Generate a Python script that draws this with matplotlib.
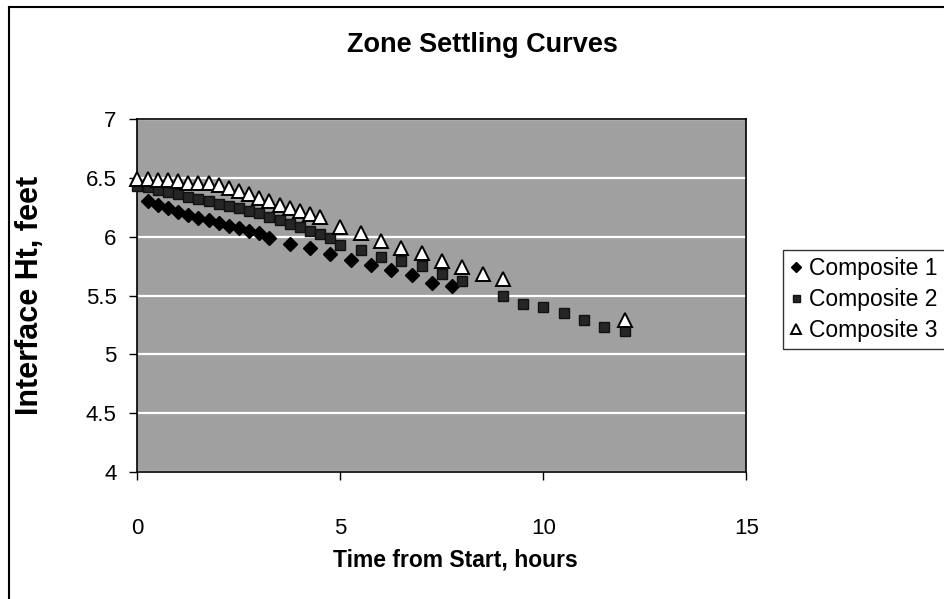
import matplotlib
matplotlib.use("Agg")
import matplotlib.pyplot as plt
from matplotlib.lines import Line2D

plt.rcParams['font.family'] = ['Liberation Sans', 'DejaVu Sans']

# Composite 1 (diamonds)
t1 = [0.25, 0.5, 0.75, 1.0, 1.25, 1.5, 1.75, 2.0, 2.25, 2.5, 2.75, 3.0,
      3.25, 3.75, 4.25, 4.75, 5.25, 5.75, 6.25, 6.75, 7.25, 7.75]
h1 = [6.30, 6.27, 6.24, 6.21, 6.18, 6.16, 6.14, 6.12, 6.09, 6.07, 6.05, 6.03,
      5.99, 5.94, 5.90, 5.85, 5.80, 5.76, 5.72, 5.67, 5.61, 5.58]

# Composite 2 (squares)
t2 = [0.0, 0.25, 0.5, 0.75, 1.0, 1.25, 1.5, 1.75, 2.0, 2.25, 2.5, 2.75, 3.0,
      3.25, 3.5, 3.75, 4.0, 4.25, 4.5, 4.75, 5.0, 5.5, 6.0, 6.5, 7.0, 7.5,
      8.0, 9.0, 9.5, 10.0, 10.5, 11.0, 11.5, 12.0]
h2 = [6.43, 6.42, 6.40, 6.38, 6.36, 6.34, 6.32, 6.30, 6.28, 6.26, 6.24, 6.22, 6.20,
      6.17, 6.14, 6.11, 6.08, 6.05, 6.02, 5.99, 5.93, 5.89, 5.83, 5.79, 5.75, 5.68,
      5.62, 5.50, 5.43, 5.40, 5.35, 5.29, 5.23, 5.20]

# Composite 3 (triangles)
t3 = [0.0, 0.25, 0.5, 0.75, 1.0, 1.25, 1.5, 1.75, 2.0, 2.25, 2.5, 2.75, 3.0,
      3.25, 3.5, 3.75, 4.0, 4.25, 4.5, 5.0, 5.5, 6.0, 6.5, 7.0, 7.5, 8.0,
      8.5, 9.0, 12.0]
h3 = [6.49, 6.49, 6.48, 6.48, 6.47, 6.46, 6.46, 6.46, 6.44, 6.41, 6.39, 6.36, 6.33,
      6.30, 6.27, 6.24, 6.22, 6.19, 6.17, 6.08, 6.03, 5.96, 5.90, 5.86, 5.79, 5.74,
      5.68, 5.64, 5.29]

x_ticks = [0, 5, 10, 15]
y_ticks = [4, 4.5, 5, 5.5, 6, 6.5, 7]

W, H = 945, 599
fig = plt.figure(figsize=(W / 100, H / 100), dpi=100)
fig.patch.set_facecolor('white')

left, right, top, bottom = 137.5, 746.5, 119, 472
ax = fig.add_axes([left / W, 1 - bottom / H, (right - left) / W, (bottom - top) / H])
ax.set_facecolor('#a0a0a0')

ax.set_xlim(0, 15)
ax.set_ylim(4, 7)
ax.set_xticks(x_ticks)
ax.set_yticks(y_ticks)
ax.set_yticklabels([f"{v:g}" for v in y_ticks])
ax.grid(axis='y', color='white', linewidth=1.6)
ax.set_axisbelow(True)
for s in ax.spines.values():
    s.set_color('black')
    s.set_linewidth(1.2)
ax.tick_params(direction='out', length=6, width=1, labelsize=16, colors='black')
ax.tick_params(axis='x', pad=27)
ax.tick_params(axis='y', pad=9)

ax.plot(t1, h1, linestyle='none', marker='D', ms=7, mfc='black', mec='black',
        label='Composite 1', clip_on=False, zorder=3)
ax.plot(t2, h2, linestyle='none', marker='s', ms=7, mfc='#262626', mec='#111111',
        label='Composite 2', clip_on=False, zorder=4)
ax.plot(t3, h3, linestyle='none', marker='^', ms=10, mfc='white', mec='black', mew=1.4,
        label='Composite 3', clip_on=False, zorder=5)

ax.set_xlabel('Time from Start, hours', fontsize=16.5, fontweight='bold')
ax.xaxis.set_label_coords((455 - left) / (right - left), -(560 - bottom) / (bottom - top))
ax.xaxis.label.set_va('center')
ax.set_ylabel('Interface Ht, feet', fontsize=22, fontweight='bold')
ax.yaxis.set_label_coords(-(left - 30) / (right - left), 0.5)
ax.yaxis.label.set_va('center')

fig.text(482 / W, 1 - 45 / H, 'Zone Settling Curves', ha='center', va='center',
         fontsize=19.5, fontweight='bold')

leg = fig.legend(loc='upper left', bbox_to_anchor=(783 / W, 1 - 250 / H),
                 frameon=True, fancybox=False, fontsize=16.5, handlelength=0.5,
                 handletextpad=0.35, borderpad=0.3, labelspacing=0.35,
                 borderaxespad=0, markerscale=0.72)
leg.get_frame().set_edgecolor('black')
leg.get_frame().set_linewidth(1.0)

# chart frame along the left and top
fig.add_artist(Line2D([9 / W, 9 / W], [0, 1 - 7 / H], color='black', lw=1.5,
                      transform=fig.transFigure))
fig.add_artist(Line2D([9 / W, 1], [1 - 7 / H, 1 - 7 / H], color='black', lw=1.5,
                      transform=fig.transFigure))

fig.savefig('out.png', dpi=100)
